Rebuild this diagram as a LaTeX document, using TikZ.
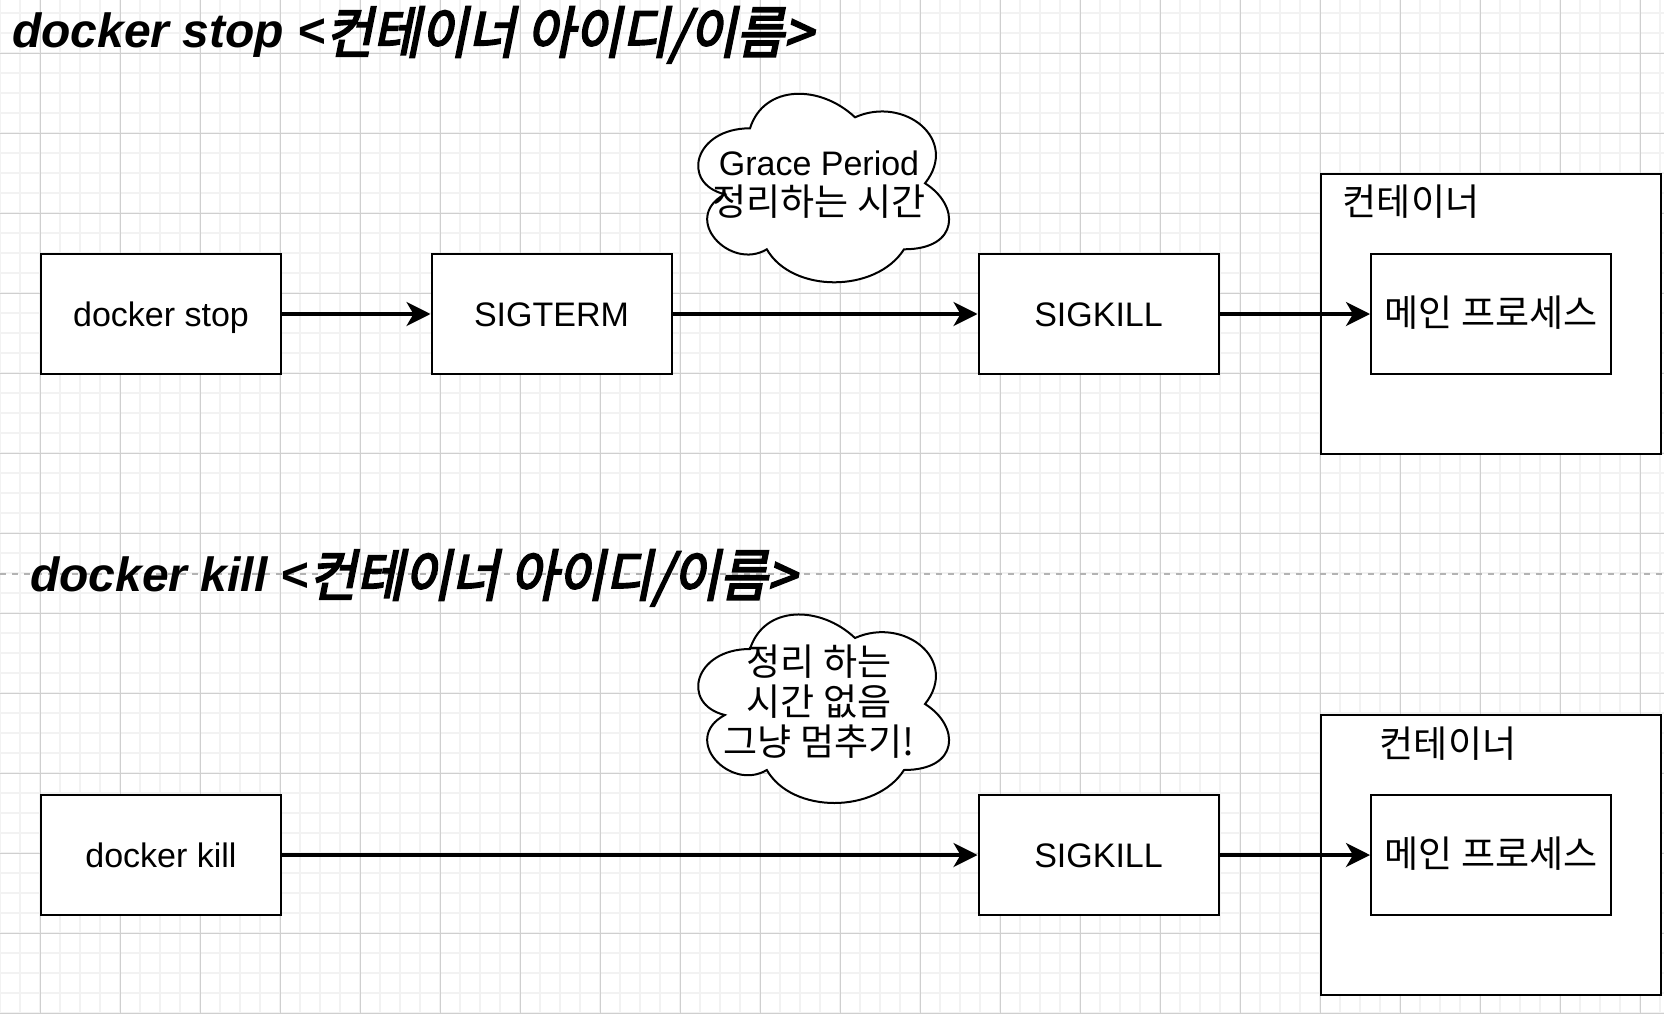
\documentclass[tikz,border=0pt]{standalone}
\usepackage{fontspec}
\setmainfont{Liberation Sans}
\newfontfamily\kr{Noto Sans CJK KR}[Scale=1.09]
\newfontfamily\krtitle{Noto Sans CJK KR}[FakeBold=3.5,FakeSlant=0.2,FakeStretch=0.92]
\usepackage{xcolor}
\usetikzlibrary{arrows.meta, positioning, calc}
\definecolor{gridminor}{HTML}{F2F2F2}
\definecolor{gridmajor}{HTML}{CFCFCF}
\definecolor{sepline}{HTML}{B3B3B3}

\begin{document}
\begin{tikzpicture}[
    x=1pt, y=-1pt,
    box/.style={rectangle, draw=black, fill=white, line width=2pt, minimum width=240pt, minimum height=120pt, inner sep=0pt, font=\fontsize{34}{40}\selectfont, text height=26pt, text depth=2pt},
    ctn/.style={rectangle, draw=black, fill=white, line width=2pt, minimum width=340pt, minimum height=280pt},
    lbl/.style={inner sep=0pt, font=\fontsize{34}{40}\selectfont\kr, text height=26pt, text depth=2pt},
    ttl/.style={anchor=base west, inner sep=0pt, font=\fontsize{48}{56}\selectfont\bfseries\itshape},
    ctxt/.style={align=center, inner sep=0pt, font=\fontsize{34}{40}\selectfont},
    arr/.style={-{Stealth[length=24pt, width=24pt, inset=7pt]}, line width=3.5pt},
    cloudshape/.pic={\draw[line width=2pt, fill=white, x=280pt, y=-220pt]
        (0.25,0.25) .. controls (0.05,0.25) and (0,0.5) .. (0.16,0.55)
        .. controls (0,0.66) and (0.18,0.9) .. (0.31,0.8)
        .. controls (0.4,1) and (0.7,1) .. (0.8,0.8)
        .. controls (1,0.8) and (1,0.6) .. (0.875,0.5)
        .. controls (1,0.3) and (0.8,0.1) .. (0.625,0.2)
        .. controls (0.5,0.05) and (0.3,0.05) .. (0.25,0.25) -- cycle;}
]

\useasboundingbox (0,0) rectangle (1664,1014);
\fill[white] (0,0) rectangle (1664,1014);
\foreach \k in {0,...,83} \draw[gridminor, line width=2pt] (20*\k,0) -- (20*\k,1014);
\foreach \k in {0,...,50} \draw[gridminor, line width=2pt] (0,13.3+20*\k) -- (1664,13.3+20*\k);
\foreach \k in {0,...,20} \draw[gridmajor, line width=1pt] (40+80*\k,0) -- (40+80*\k,1014);
\foreach \k in {0,...,12} \draw[gridmajor, line width=1pt] (0,53.3+80*\k) -- (1664,53.3+80*\k);

\coordinate (sepL) at (0,574);
\coordinate (sepR) at (1664,574);
\draw[sepline, line width=2pt, dash pattern=on 6pt off 6pt] (sepL) -- (sepR);

\node[ttl] (ttlstop) at (12,48) {docker stop <{\fontsize{56}{60}\krtitle\mdseries\upshape\raisebox{-5pt}{컨테이너 아이디/이름>}}};
\node[ttl] (ttlkill) at (30,591) {docker kill <{\fontsize{56}{60}\krtitle\mdseries\upshape\raisebox{-5pt}{컨테이너 아이디/이름>}}};

\node[box] (stopA) at (161,314) {docker stop};
\node[box, right=148.5pt of stopA] (term) {SIGTERM};
\node[box, right=305pt of term] (killA) {SIGKILL};
\node[ctn, right=100.5pt of killA] (ctnA) {};
\node[box] (mainA) at (ctnA) {\kr 메인 프로세스};
\node[lbl] (ctnlblA) at ($(ctnA.north west)+(91,30)$) {컨테이너};
\pic at (680,73.3) {cloudshape};
\node[ctxt] (grace) at (819,185) {Grace Period\\{\kr 정리하는 시간}};

\node[box] (stopB) at (161,855) {docker kill};
\node[box, right=695.5pt of stopB] (killB) {SIGKILL};
\node[ctn, right=100.5pt of killB] (ctnB) {};
\node[box] (mainB) at (ctnB) {\kr 메인 프로세스};
\node[lbl] (ctnlblB) at ($(ctnB.north west)+(128,31)$) {컨테이너};
\pic at (680,594) {cloudshape};
\node[ctxt, font=\fontsize{34}{40}\selectfont\kr] (nowait) at (819,701.5) {정리 하는\\시간 없음\\그냥 멈추기!};

\draw[arr] (stopA) -- (term);
\draw[arr] (term) -- (killA);
\draw[arr] (killA) -- (mainA);
\draw[arr] (stopB) -- (killB);
\draw[arr] (killB) -- (mainB);

\end{tikzpicture}
\end{document}
